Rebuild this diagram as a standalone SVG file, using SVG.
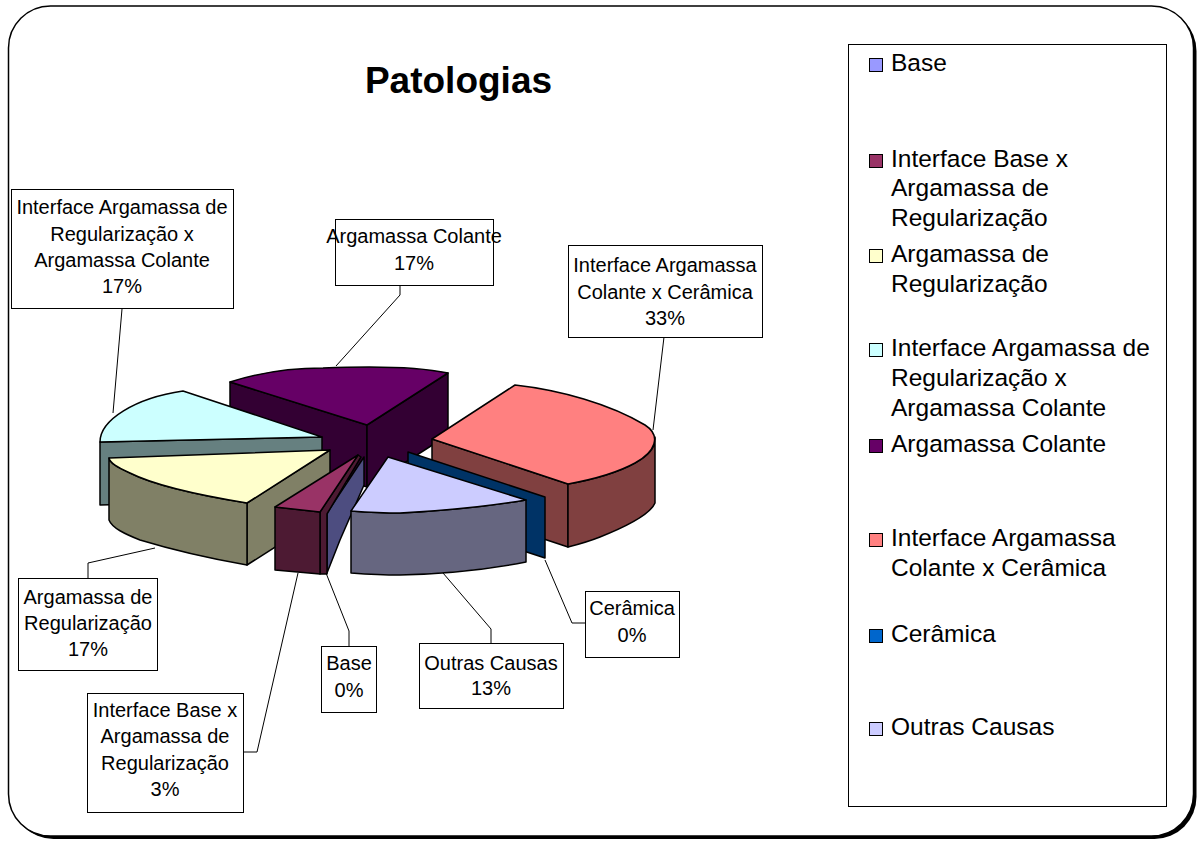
<svg xmlns="http://www.w3.org/2000/svg" width="1201" height="843" viewBox="0 0 1201 843">
<style>
.lbl{font-family:"Liberation Sans",Arial,sans-serif;font-size:20px;fill:#000;text-anchor:middle}
.leg{font-family:"Liberation Sans",Arial,sans-serif;font-size:24.5px;fill:#000}
.box{fill:#fff;stroke:#000;stroke-width:1}
.ld{fill:none;stroke:#000;stroke-width:1}
.pie{stroke:#000;stroke-width:1.5;stroke-linejoin:round}
.sw{stroke:#000;stroke-width:1}
</style>
<rect x="11.5" y="9" width="1185" height="830" rx="42" fill="#000"/>
<rect x="8.5" y="6" width="1185" height="830" rx="42" fill="#fff" stroke="#000" stroke-width="1.5"/>
<text x="458.5" y="93" font-family="Liberation Sans,Arial,sans-serif" font-size="37" font-weight="bold" text-anchor="middle">Patologias</text>

<g id="slice-argamassa-colante">
<path class="pie" fill="#330033" d="M230,382 L367,425 L367,487 L230,444 Z"/>
<path class="pie" fill="#330033" d="M367,425 L448,373 L448,435 L367,487 Z"/>
<path class="pie" fill="#660066" d="M230,382 C255,374 285,368 323,368 C370,366 420,367 448,373 L367,425 Z"/>
</g>
<g id="slice-interface-ac-ceramica">
<path class="pie" fill="#804040" d="M432,439 L568,484 L568,547 L432,502 Z"/>
<path class="pie" fill="#804040" d="M568,484 C590,480 615,474 635,463 C650,455 656,446 655,437 L655,503 C650,515 625,527 600,537 C590,541 580,544 568,547 Z"/>
<path class="pie" fill="#FF8080" d="M432,439 L515,385 C560,390 610,404 645,425 C662,436 655,452 635,463 C615,474 590,480 568,484 Z"/>
</g>
<g id="slice-interface-ar-ac">
<path class="pie" fill="#668080" d="M100,442 L322,437 L322,499 L100,505 Z"/>
<path class="pie" fill="#CCFFFF" d="M100,442 C100,420 135,398 183,391 L322,437 Z"/>
</g>
<g id="slice-argamassa-regularizacao">
<path class="pie" fill="#808066" d="M247,503 L330,450 L330,512 L247,565 Z"/>
<path class="pie" fill="#808066" d="M109,458 C110,463 117,467 130,473 C160,488 210,497 247,503 L247,565 C207,558 173,550 140,540 C125,534 112,528 109,520 Z"/>
<path class="pie" fill="#FFFFCC" d="M109,458 L330,450 L247,503 C210,497 160,488 130,473 C117,467 110,463 109,458 Z"/>
</g>
<g id="slice-ceramica">
<path class="pie" fill="#003366" d="M408,452 L545,497 L545,558 L408,513 Z"/>
</g>
<g id="slice-base">
<path class="pie" fill="#4D4D80" d="M327,513 L364,457 L364,485 L340,540 L327,573 Z"/>
</g>
<g id="slice-interface-base-ar">
<path class="pie" fill="#4D1A33" d="M320,512 L358,455 L361,457 L327,514 L327,574 L320,574 Z"/>
<path class="pie" fill="#4D1A33" d="M275,507 L320,512 L320,574 L275,570 Z"/>
<path class="pie" fill="#993366" d="M275,507 L320,512 L358,455 Z"/>
</g>
<g id="slice-outras-causas">
<path class="pie" fill="#666680" d="M351,511 C365,512 380,513 400,513 C440,511 490,506 526,500 L526,562 C490,569 440,574 400,575 C380,575 365,574 351,573 Z"/>
<path class="pie" fill="#CCCCFF" d="M388,457 L526,500 C490,506 440,511 400,513 C380,513 365,512 351,511 Z"/>
</g>

<g id="connectors">
<path class="ld" d="M122,309 L113,413"/>
<path class="ld" d="M400,286 L400,295 L336,366"/>
<path class="ld" d="M664,337 L653,430"/>
<path class="ld" d="M88,578 L88,563 L155,548"/>
<path class="ld" d="M243,752 L257,752 L298,573"/>
<path class="ld" d="M349,646 L349,631 L326,573"/>
<path class="ld" d="M491,643 L491,629 L443,573"/>
<path class="ld" d="M585,623 L572,623 L545,560"/>
</g>

<g id="label-interface-ar-ac">
<rect class="box" x="11.5" y="189.5" width="222" height="119"/>
<text class="lbl" x="122" y="214">Interface Argamassa de</text>
<text class="lbl" x="122" y="241">Regularização x</text>
<text class="lbl" x="122" y="267">Argamassa Colante</text>
<text class="lbl" x="122" y="293">17%</text>
</g>
<g id="label-argamassa-colante">
<rect class="box" x="335.5" y="219.5" width="158" height="66"/>
<text class="lbl" x="414" y="243">Argamassa Colante</text>
<text class="lbl" x="414" y="270">17%</text>
</g>
<g id="label-interface-ac-ceramica">
<rect class="box" x="568.5" y="245.5" width="194" height="92"/>
<text class="lbl" x="665" y="272">Interface Argamassa</text>
<text class="lbl" x="665" y="299">Colante x Cerâmica</text>
<text class="lbl" x="665" y="325">33%</text>
</g>
<g id="label-argamassa-regularizacao">
<rect class="box" x="18.5" y="578.5" width="139" height="92"/>
<text class="lbl" x="88" y="604">Argamassa de</text>
<text class="lbl" x="88" y="630">Regularização</text>
<text class="lbl" x="88" y="656">17%</text>
</g>
<g id="label-interface-base-ar">
<rect class="box" x="87.5" y="693.5" width="156" height="119"/>
<text class="lbl" x="165" y="717">Interface Base x</text>
<text class="lbl" x="165" y="743">Argamassa de</text>
<text class="lbl" x="165" y="770">Regularização</text>
<text class="lbl" x="165" y="796">3%</text>
</g>
<g id="label-base">
<rect class="box" x="321.5" y="646.5" width="55" height="66"/>
<text class="lbl" x="349" y="670">Base</text>
<text class="lbl" x="349" y="697">0%</text>
</g>
<g id="label-outras-causas">
<rect class="box" x="419.5" y="643.5" width="144" height="65"/>
<text class="lbl" x="491" y="670">Outras Causas</text>
<text class="lbl" x="491" y="695">13%</text>
</g>
<g id="label-ceramica">
<rect class="box" x="585.5" y="591.5" width="94" height="66"/>
<text class="lbl" x="632" y="615">Cerâmica</text>
<text class="lbl" x="632" y="642">0%</text>
</g>

<g id="legend">
<rect class="box" x="848.5" y="44.5" width="318" height="762"/>
<rect class="sw" x="869.5" y="58.5" width="13" height="13" fill="#9999FF"/>
<text class="leg" x="891" y="71">Base</text>
<rect class="sw" x="869.5" y="154.5" width="13" height="13" fill="#993366"/>
<text class="leg" x="891" y="167">Interface Base x</text>
<text class="leg" x="891" y="196">Argamassa de</text>
<text class="leg" x="891" y="226">Regularização</text>
<rect class="sw" x="869.5" y="249.5" width="13" height="13" fill="#FFFFCC"/>
<text class="leg" x="891" y="262">Argamassa de</text>
<text class="leg" x="891" y="292">Regularização</text>
<rect class="sw" x="869.5" y="343.5" width="13" height="13" fill="#CCFFFF"/>
<text class="leg" x="891" y="356">Interface Argamassa de</text>
<text class="leg" x="891" y="386">Regularização x</text>
<text class="leg" x="891" y="416">Argamassa Colante</text>
<rect class="sw" x="869.5" y="439.5" width="13" height="13" fill="#660066"/>
<text class="leg" x="891" y="452">Argamassa Colante</text>
<rect class="sw" x="869.5" y="533.5" width="13" height="13" fill="#FF8080"/>
<text class="leg" x="891" y="546">Interface Argamassa</text>
<text class="leg" x="891" y="576">Colante x Cerâmica</text>
<rect class="sw" x="869.5" y="629.5" width="13" height="13" fill="#0066CC"/>
<text class="leg" x="891" y="642">Cerâmica</text>
<rect class="sw" x="869.5" y="722.5" width="13" height="13" fill="#CCCCFF"/>
<text class="leg" x="891" y="735">Outras Causas</text>
</g>
</svg>
